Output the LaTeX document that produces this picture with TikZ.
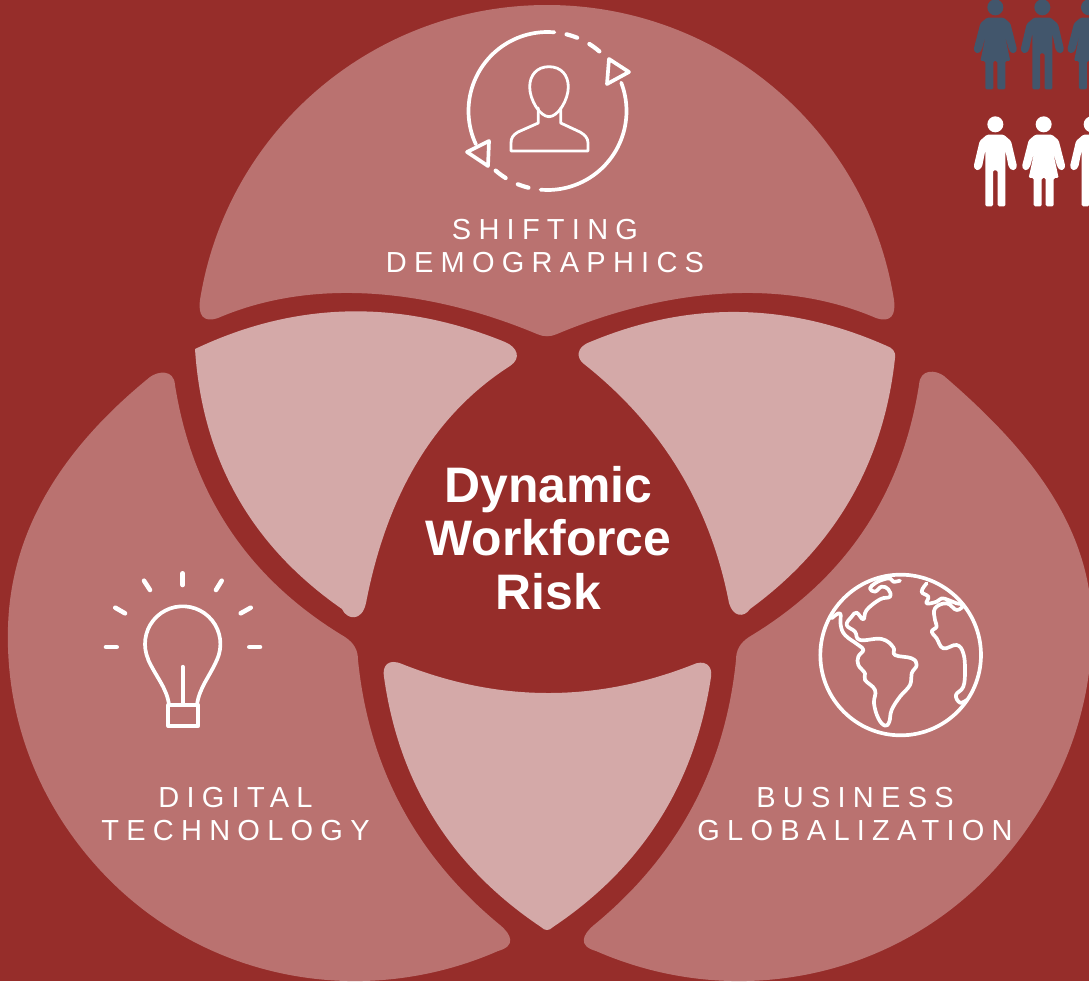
\documentclass[tikz,border=0pt]{standalone}
\usepackage{fontspec}
\setmainfont{Liberation Sans}
\newfontfamily\spacedfont[LetterSpace=25]{Liberation Sans}
\definecolor{riskred}{RGB}{150, 45, 42}
\definecolor{petalred}{RGB}{186, 114, 112}
\definecolor{lensred}{RGB}{212, 169, 168}
\definecolor{peopleblue}{RGB}{66, 86, 108}
\usetikzlibrary{positioning}

\newcommand{\manfig}[3]{\fill[#1, shift={(#2,#3)}, rounded corners=0.8pt] (-25,53) -- (25,53) -- (47,72) -- (65,148) -- (60,158) -- (50,160) -- (40,150) -- (30,100) -- (30,268) -- (7,268) -- (7,160) -- (-7,160) -- (-7,268) -- (-30,268) -- (-30,100) -- (-40,150) -- (-50,160) -- (-60,158) -- (-65,148) -- (-47,72) -- cycle (0,22) circle[radius=24];}
\newcommand{\womanfig}[3]{\fill[#1, shift={(#2,#3)}, rounded corners=0.8pt] (-25,53) -- (25,53) -- (45,70) -- (65,148) -- (60,158) -- (50,160) -- (41,150) -- (27,100) -- (45,183) -- (30,183) -- (30,268) -- (6,268) -- (6,183) -- (-6,183) -- (-6,268) -- (-30,268) -- (-30,183) -- (-45,183) -- (-27,100) -- (-41,150) -- (-50,160) -- (-60,158) -- (-65,148) -- (-45,70) -- cycle (0,22) circle[radius=24];}

\begin{document}
\begin{tikzpicture}[x=0.02cm, y=-0.02cm, tension=0.6,
  petal/.style={fill=petalred},
  lens/.style={fill=lensred},
  iconline/.style={draw=white, line width=1.6pt, line join=round, line cap=round},
  iconbold/.style={draw=white, line width=2.1pt, line join=round, line cap=round},
  forcelabel/.style={text=white, align=center, font=\spacedfont\fontsize{16.5}{19}\selectfont},
  centerlabel/.style={text=white, align=center, font=\bfseries\fontsize{28.4}{30.6}\selectfont}
]
  \useasboundingbox (0,0) rectangle (1089,981);
  \clip (0,0) rectangle (1089,981);
  \fill[riskred] (0,0) rectangle (1089,981);

  % Outer petals
  \fill[petal] (200,300) .. controls (227,129.6) and (374.5,5) .. (547,5)
    .. controls (719.5,5) and (867,129.6) .. (894,300)
    .. controls (896,315) and (891,323) .. (876,318)
    .. controls (776,275) and (657,292) .. (557,334)
    .. controls (551,337) and (543,337) .. (537,334)
    .. controls (437,292) and (318,275) .. (218,318)
    .. controls (203,323) and (198,315) .. cycle;
  \fill[petal] (175,385) .. controls (192.5,495.5) and (249.1,579.5) .. (345,637)
    .. controls (354,643) and (358,650) .. (358,660)
    .. controls (368.9,767.8) and (416.3,856.2) .. (500,925)
    .. controls (512,935) and (516,946) .. (498,951)
    .. controls (361,1011) and (201.3,979.8) .. (100,870)
    .. controls (38.3,803) and (5.3,718) .. (8,627)
    .. controls (11,523) and (70,442) .. (150,377)
    .. controls (158,371) and (174,369) .. cycle;
  \fill[petal] (919,385) .. controls (901.5,495.5) and (844.9,579.5) .. (749,637)
    .. controls (740,643) and (736,650) .. (736,660)
    .. controls (725.1,767.8) and (677.7,856.2) .. (594,925)
    .. controls (582,935) and (578,946) .. (596,951)
    .. controls (733,1011) and (892.7,979.8) .. (994,870)
    .. controls (1056,802) and (1092,719) .. (1092,627)
    .. controls (1092,523) and (1023,444) .. (944,376)
    .. controls (936,370) and (920,368) .. cycle;

  % Overlaps
  \fill[lens] (195,349) .. controls (298,300) and (402,300) .. (505,342)
    .. controls (517,347) and (522,358) .. (510,366)
    .. controls (435.3,413.7) and (387.3,492.7) .. (366,603)
    .. controls (362,622) and (347,620) .. (342,609)
    .. controls (251.2,545.9) and (202.2,459.3) .. cycle;
  \fill[lens] (895,358) .. controls (883.7,463) and (835.3,546.6) .. (750,609)
    .. controls (744,618) and (733,617) .. (729,603)
    .. controls (710.3,505.3) and (661.9,425.7) .. (584,364)
    .. controls (576,358) and (576,347) .. (590,342)
    .. controls (689,300.6) and (788,302) .. (887,346)
    .. controls (892,348) and (896,351) .. cycle;
  \fill[lens] (541,927) .. controls (451.4,867) and (399,783.7) .. (384,677)
    .. controls (382,666) and (388,658) .. (402,664)
    .. controls (498.7,702.3) and (595.3,702.7) .. (692,665)
    .. controls (704,659) and (713,665) .. (711,677)
    .. controls (695,783.7) and (642.6,867) .. (553,927)
    .. controls (549,931) and (545,931) .. cycle;

  % Labels
  \node[centerlabel] (risk) at (548.5,538) {Dynamic\\Workforce\\Risk};
  \node[forcelabel] (demographics) at (545,246) {SHIFTING\\DEMOGRAPHICS};
  \node[forcelabel] (technology) at (235.5,814) {DIGITAL\\TECHNOLOGY};
  \node[forcelabel] (globalization) at (855,814) {BUSINESS\\GLOBALIZATION};

  % Person with arrows
  \draw[iconbold] plot[smooth, domain=85:205, samples=25] ({547.5+79*cos(\x)}, {111-79*sin(\x)});
  \draw[iconbold] plot[smooth, domain=-95:21, samples=25] ({547.5+79*cos(\x)}, {111-79*sin(\x)});
  \foreach \a/\b in {76/68, 58/49, 256/248, 238/229}
    \draw[iconbold, line width=2.4pt] plot[smooth, domain=\a:\b, samples=5] ({547.5+79*cos(\x)}, {111-79*sin(\x)});
  \draw[iconbold, fill=petalred] (609,59) -- (629,72) -- (607,84) -- cycle;
  \draw[iconbold, fill=petalred] (489,141) -- (467,152) -- (488,166) -- cycle;
  \draw[iconline] (549,66.7) .. controls (537,66.7) and (529.7,75) .. (529.7,87) .. controls (529.7,100) and (540,116.7) .. (549,116.7) .. controls (558,116.7) and (568.3,100) .. (568.3,87) .. controls (568.3,75) and (561,66.7) .. cycle;
  \draw[iconline] (538.3,108) -- (538.3,123) -- (518,132) .. controls (513,135) and (511,138) .. (511,143) -- (511,151) -- (588,151) -- (588,143) .. controls (588,138) and (585,135) .. (580,132) -- (560.7,123) -- (560.7,108);

  % Bulb
  \foreach \xa/\ya/\xb/\yb in {182.7/573.3/182.7/585, 144/580.7/150/590, 221.7/580.7/216/590, 115.3/607.7/125/613.3, 250.7/607.7/240.7/613.3, 106/647/116.7/647, 249.3/647/260/647}
    \draw[iconbold, line width=2.6pt] (\xa,\ya) -- (\xb,\yb);
  \draw[iconbold] (169,705) .. controls (167,688) and (156,677) .. (148,659.3)
    -- plot[smooth, domain=204:-24, samples=30] ({182.7+37.7*cos(\x)}, {644-37.7*sin(\x)})
    .. controls (209.5,677) and (199,688) .. (197,705);
  \draw[iconbold] (168.3,705) rectangle (198.3,726);
  \draw[iconbold] (182.7,666.7) -- (182.7,705);

  % Globe
  \begin{scope}[shift={(800,560)}, scale=0.3333, tension=0.7]
    \draw[iconbold] (302,285) circle[radius=241];
    \draw[iconbold] plot[smooth] coordinates {(95,175) (120,160) (122,195) (135,225) (175,255) (190,270) (175,290) (175,315) (195,340) (195,360) (225,390) (222,430) (235,475) (255,497) (268,485) (275,450) (300,410) (330,375) (335,340) (350,315) (335,295) (285,285) (280,262) (245,237) (180,240) (165,215) (140,195) (155,170) (170,158) (190,178) (200,150) (240,118) (270,110) (265,88) (245,80) (225,95) (210,85) (225,70) (245,60) (270,55) (280,65) (300,62)};
    \draw[iconbold] plot[smooth] coordinates {(380,70) (365,95) (385,110) (380,130) (410,125) (425,115) (445,120) (470,130) (490,135) (470,150) (440,130) (405,145) (405,180) (410,200) (395,215) (410,235) (430,265) (470,255) (490,280) (495,330) (490,380) (468,405) (480,428) (500,420)};
  \end{scope}

  % People
  \begin{scope}[shift={(960,0)}, scale=0.3333]
    \womanfig{peopleblue}{106}{0}
    \manfig{peopleblue}{247}{0}
    \womanfig{peopleblue}{387}{0}
    \manfig{white}{106}{351}
    \womanfig{white}{251}{351}
    \manfig{white}{395}{351}
  \end{scope}
\end{tikzpicture}
\end{document}
